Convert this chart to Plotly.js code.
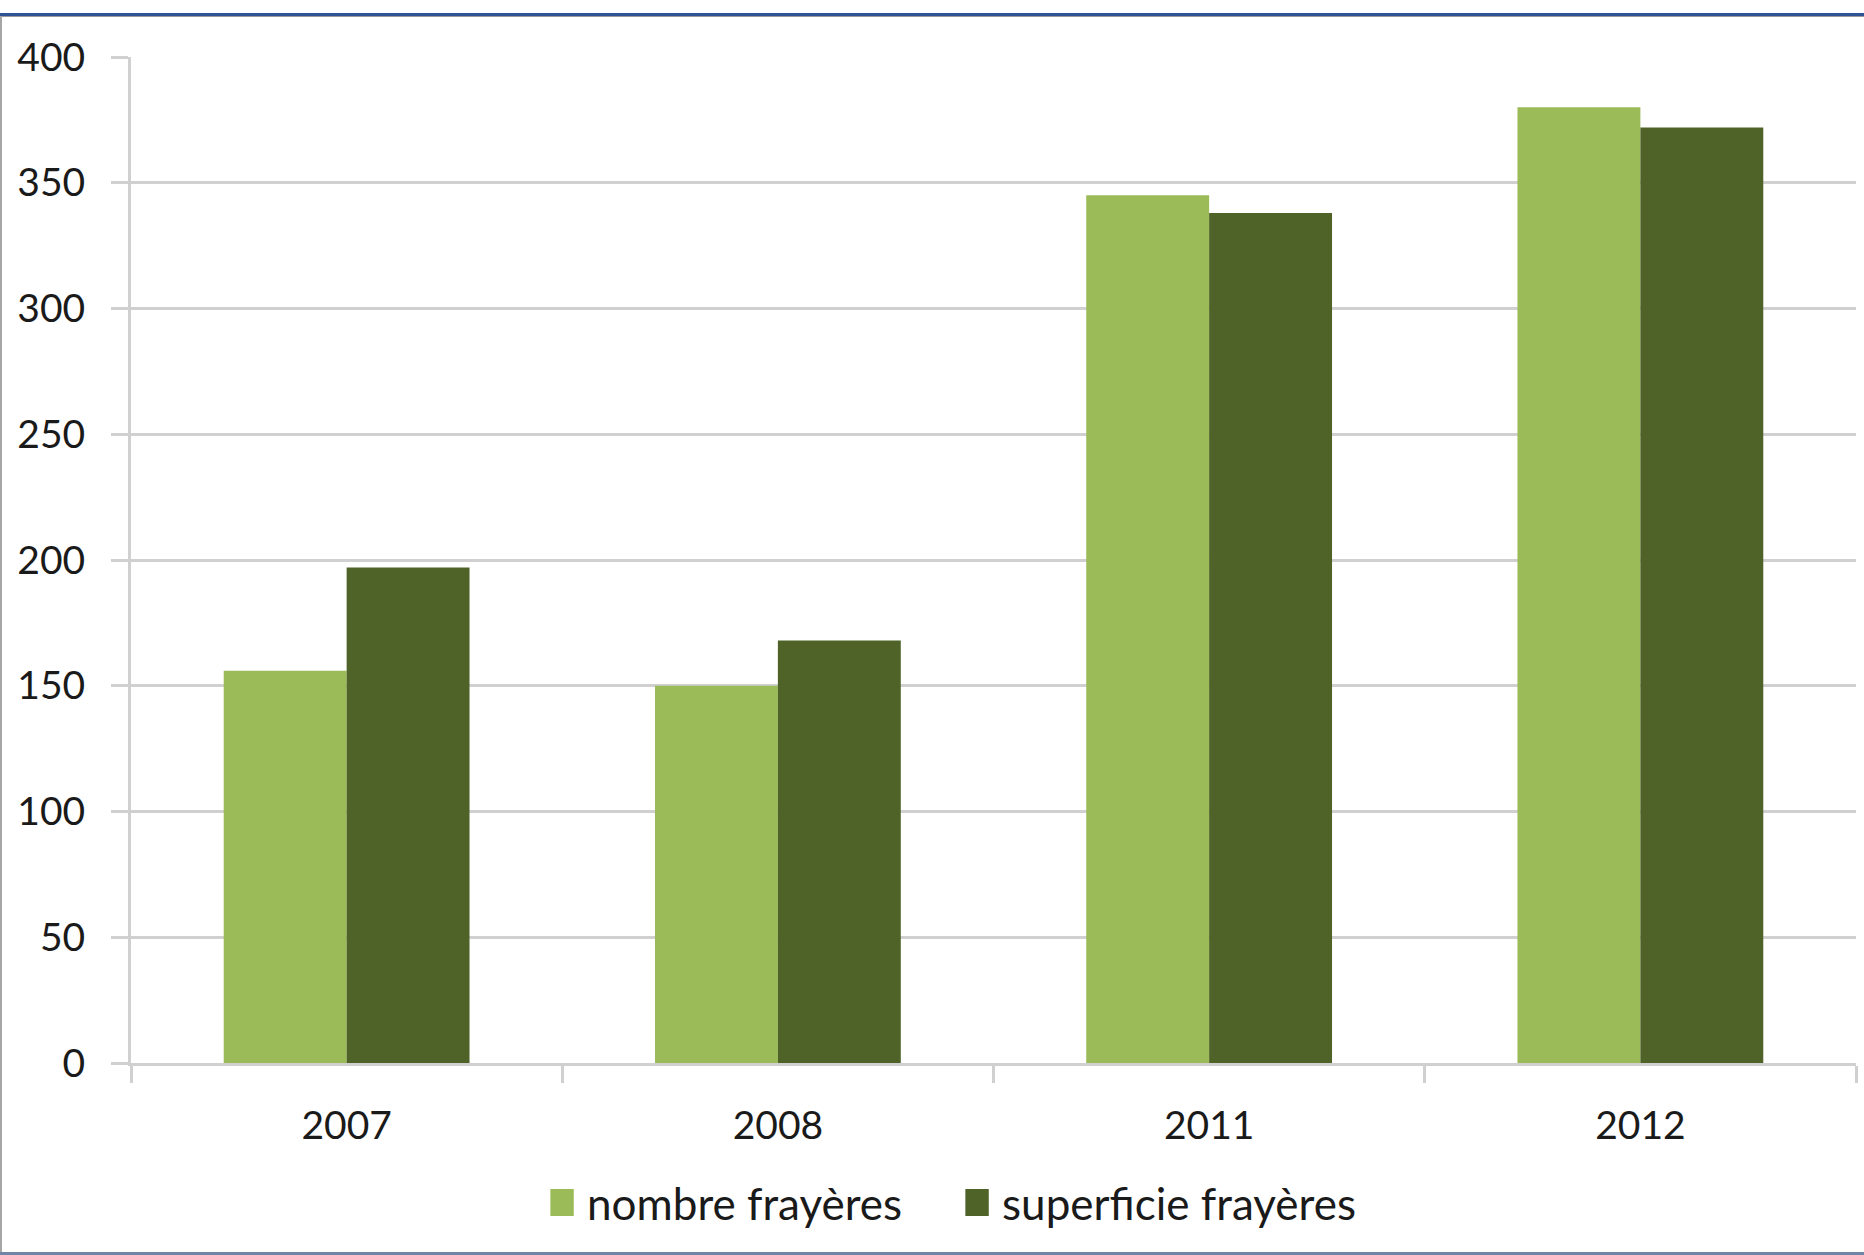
<!DOCTYPE html>
<html>
<head>
<meta charset="utf-8">
<script src="https://cdn.plot.ly/plotly-3.0.1.min.js"></script>
<style>
  html, body { margin: 0; padding: 0; background: #ffffff; }
  #wrap { position: relative; width: 1864px; height: 1255px; overflow: hidden; }
  #chart { position: absolute; left: 0; top: 0; width: 1864px; height: 1255px; }
  .frame-top { position: absolute; left: 0; top: 13px; width: 1864px; height: 3px; background: #2f5496; }
  .frame-top2 { position: absolute; left: 0; top: 16px; width: 1864px; height: 1px; background: #9a9a9a; }
  .frame-left { position: absolute; left: 0; top: 16px; width: 2px; height: 1239px; background: #a6a6a6; }
  .frame-bottom { position: absolute; left: 0; top: 1252px; width: 1864px; height: 3px; background: #7086a6; }
</style>
</head>
<body>
<div id="wrap">
  <div id="chart"></div>
  <div class="frame-top"></div>
  <div class="frame-top2"></div>
  <div class="frame-left"></div>
  <div class="frame-bottom"></div>
</div>
<script>
// Data
const years = ['2007', '2008', '2011', '2012'];
const nombreFrayeres = [156, 150, 345, 380];
const superficieFrayeres = [197, 168, 338, 372];
const seriesNames = ['nombre frayères', 'superficie frayères'];
const yTicks = [0, 50, 100, 150, 200, 250, 300, 350, 400];

const gridColor = '#d0d0d0';
const fontFamily = 'Lato, "Open Sans", sans-serif';

const traces = [
  {
    type: 'bar',
    name: seriesNames[0],
    x: years,
    y: nombreFrayeres,
    marker: { color: '#9bbb59', line: { width: 0 } },
    hoverinfo: 'x+y+name'
  },
  {
    type: 'bar',
    name: seriesNames[1],
    x: years,
    y: superficieFrayeres,
    marker: { color: '#4f6228', line: { width: 0 } },
    hoverinfo: 'x+y+name'
  }
];

const layout = {
  width: 1864,
  height: 1255,
  margin: { l: 131, r: 8, t: 57, b: 192, pad: 0 },
  paper_bgcolor: '#ffffff',
  plot_bgcolor: '#ffffff',
  font: { family: fontFamily, size: 39, color: '#1a1a1a' },
  barmode: 'group',
  bargap: 0.43,
  bargroupgap: 0,
  showlegend: true,
  legend: {
    orientation: 'h',
    x: 0.2354,
    xanchor: 'left',
    y: -0.139,
    yanchor: 'middle',
    itemwidth: 40,
    entrywidth: 360,
    entrywidthmode: 'pixels',
    font: { family: fontFamily, size: 44, color: '#1a1a1a' },
    bgcolor: 'rgba(0,0,0,0)',
    traceorder: 'normal'
  },
  xaxis: {
    type: 'category',
    showgrid: false,
    showline: true,
    linecolor: gridColor,
    linewidth: 3,
    ticks: 'outside',
    tickson: 'boundaries',
    ticklen: 17,
    tickwidth: 3,
    tickcolor: gridColor,
    ticklabelstandoff: 26,
    tickfont: { family: fontFamily, size: 39, color: '#1a1a1a' },
    zeroline: false
  },
  yaxis: {
    range: [0, 400],
    tickvals: yTicks,
    ticktext: yTicks.map(String),
    showgrid: true,
    gridcolor: gridColor,
    gridwidth: 3,
    showline: true,
    linecolor: gridColor,
    linewidth: 3,
    ticks: 'outside',
    ticklen: 17,
    tickwidth: 3,
    tickcolor: gridColor,
    ticklabelstandoff: 18,
    tickfont: { family: fontFamily, size: 39, color: '#1a1a1a' },
    zeroline: false
  }
};

Plotly.newPlot('chart', traces, layout, { displayModeBar: false, staticPlot: true }).then(function () {
  // Enlarge legend swatches to match the reference's larger square markers
  document.querySelectorAll('#chart .legend .legendpoints path').forEach(function (p) {
    var t = p.getAttribute('transform') || '';
    p.setAttribute('transform', t + ' scale(1.95,2.25)');
  });
});
</script>
</body>
</html>
